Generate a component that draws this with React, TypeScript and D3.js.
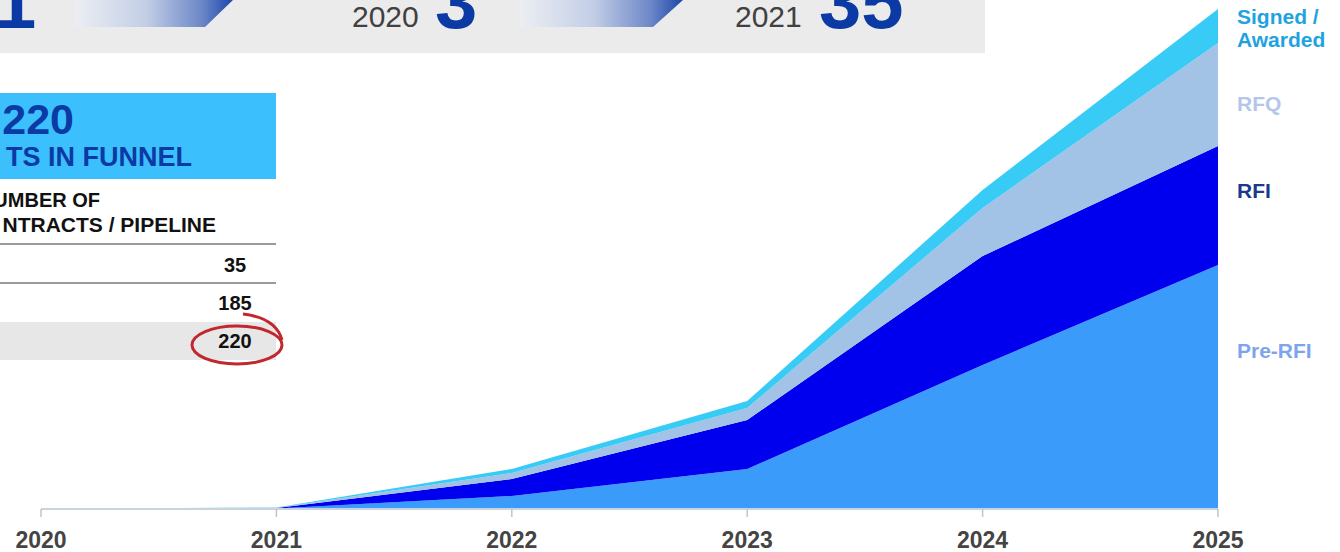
import React from "react";
import * as d3 from "d3";

const years = [2020, 2021, 2022, 2023, 2024, 2025];
const seriesNames = ["Pre-RFI", "RFI", "RFQ", "Signed / Awarded"];
const preRfi = [0, 0.5, 13, 40, 144, 244];
const rfi = [0, 0.5, 17, 49, 109, 119];
const rfq = [0, 0.3, 6, 12, 48, 103];
const signed = [0, 0.3, 4, 7, 18, 34];
const seriesColors = ["#3a9bfa", "#0000ee", "#a2c2e6", "#38cbf6"];

const tableValues = ["35", "185", "220"];
const bannerYears = ["2020", "2021"];
const bannerCounts = ["3", "35"];

const W = 1340;
const H = 552;
const FONT = "'Liberation Sans', Arial, sans-serif";

export default function App() {
  const x = d3.scaleLinear().domain([2020, 2025]).range([41, 1218]);
  const y = d3.scaleLinear().domain([0, 500]).range([509, 9]);

  const rows = years.map((yr, i) => ({
    year: yr,
    "Pre-RFI": preRfi[i],
    RFI: rfi[i],
    RFQ: rfq[i],
    "Signed / Awarded": signed[i],
  }));
  const stack = d3.stack<any>().keys(seriesNames);
  const layers = stack(rows);
  const area = d3
    .area<any>()
    .x((d) => x(d.data.year))
    .y0((d) => y(d[0]))
    .y1((d) => y(d[1]));

  const blue = "#0b3aa4";

  return (
    <svg
      width={W}
      height={H}
      style={{ position: "absolute", left: 0, top: 0, background: "#fff" }}
      fontFamily={FONT}
    >
      <defs>
        <linearGradient id="arrowGrad" x1="0" x2="1" y1="0" y2="0">
          <stop offset="0%" stopColor="#eceef2" />
          <stop offset="45%" stopColor="#c3cee6" />
          <stop offset="80%" stopColor="#6d88c8" />
          <stop offset="100%" stopColor="#1e46aa" />
        </linearGradient>
      </defs>

      {/* top banner */}
      <rect x={0} y={0} width={985} height={53} fill="#ebebeb" />
      <text x={-6} y={28} fontSize={76} fontWeight="bold" fill={blue}>
        1
      </text>
      <polygon points="75,0 233,0 205,27 75,27" fill="url(#arrowGrad)" />
      <polygon points="520,0 683,0 653,27 520,27" fill="url(#arrowGrad)" />
      <text x={352} y={27} fontSize={30} fill="#404040">
        {bannerYears[0]}
      </text>
      <text x={435} y={28} fontSize={76} fontWeight="bold" fill={blue}>
        {bannerCounts[0]}
      </text>
      <text x={735} y={27} fontSize={30} fill="#404040">
        {bannerYears[1]}
      </text>
      <text x={819} y={28} fontSize={76} fontWeight="bold" fill={blue}>
        {bannerCounts[1]}
      </text>

      {/* left panel */}
      <rect x={0} y={93} width={276} height={86} fill="#3cbffd" />
      <text x={74} y={134} textAnchor="end" fontSize={43} fontWeight="bold" fill={blue}>
        220
      </text>
      <text x={192} y={166} textAnchor="end" fontSize={27} fontWeight="bold" fill={blue}>
        TS IN FUNNEL
      </text>
      <text x={100} y={207} textAnchor="end" fontSize={20} fontWeight="bold" fill="#111">
        UMBER OF
      </text>
      <text x={216} y={232} textAnchor="end" fontSize={21} fontWeight="bold" fill="#111">
        NTRACTS / PIPELINE
      </text>
      <line x1={0} x2={276} y1={244} y2={244} stroke="#9a9a9a" strokeWidth={2} />
      <line x1={0} x2={276} y1={283} y2={283} stroke="#9a9a9a" strokeWidth={2} />
      <rect x={0} y={322} width={276} height={38} fill="#e7e7e7" />
      {tableValues.map((v, i) => (
        <text
          key={v}
          x={235}
          y={272 + i * 38}
          textAnchor="middle"
          fontSize={20}
          fontWeight="bold"
          fill="#111"
        >
          {v}
        </text>
      ))}
      <ellipse cx={237} cy={345} rx={45} ry={19} fill="none" stroke="#c0282d" strokeWidth={3} />
      <path d="M243,314 Q276,318 282,340" fill="none" stroke="#c0282d" strokeWidth={3} />

      {/* areas */}
      {layers.map((layer, i) => (
        <path key={layer.key} d={area(layer) || ""} fill={seriesColors[i]} />
      ))}

      {/* x axis */}
      <line x1={x(2020)} x2={x(2025)} y1={509} y2={509} stroke="#c9d3de" strokeWidth={2} />
      {years.map((yr) => (
        <g key={yr}>
          <line x1={x(yr)} x2={x(yr)} y1={509} y2={517} stroke="#c4c4c4" strokeWidth={1.5} />
          <text
            x={x(yr)}
            y={548}
            textAnchor="middle"
            fontSize={23}
            fontWeight="bold"
            fill="#444"
          >
            {yr}
          </text>
        </g>
      ))}

      {/* legend labels */}
      <text x={1237} y={24} fontSize={21} fontWeight="bold" fill="#1ea3e0">
        Signed /
      </text>
      <text x={1237} y={47} fontSize={21} fontWeight="bold" fill="#1ea3e0">
        Awarded
      </text>
      <text x={1237} y={111} fontSize={21} fontWeight="bold" fill="#b4c6ea">
        RFQ
      </text>
      <text x={1237} y={198} fontSize={21} fontWeight="bold" fill="#1c3a8a">
        RFI
      </text>
      <text x={1237} y={358} fontSize={21} fontWeight="bold" fill="#7ea4ec">
        Pre-RFI
      </text>
    </svg>
  );
}
